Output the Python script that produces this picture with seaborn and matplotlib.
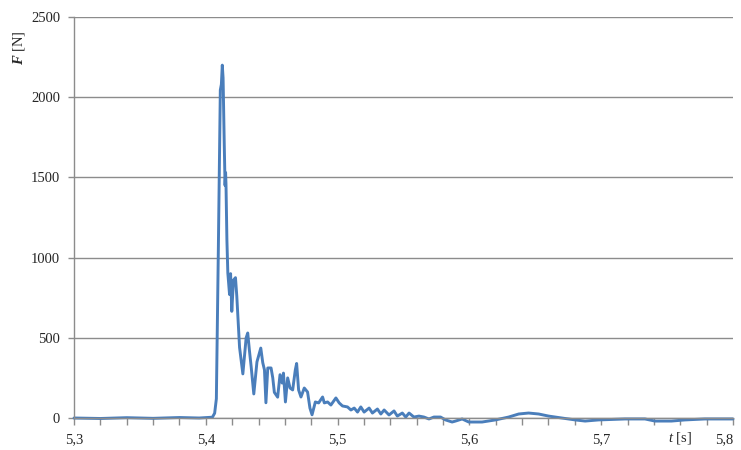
import numpy as np
import pandas as pd
import matplotlib
matplotlib.use("Agg")
import matplotlib.pyplot as plt
import seaborn as sns

sns.set_style("white")
plt.rcParams['font.family'] = ['Liberation Serif', 'DejaVu Serif']
plt.rcParams['mathtext.fontset'] = 'custom'
plt.rcParams['mathtext.rm'] = 'Liberation Serif'
plt.rcParams['mathtext.it'] = 'Liberation Serif:italic'
plt.rcParams['mathtext.bfit'] = 'Liberation Serif:bold:italic'

# force signal
t_s = [5.300, 5.320, 5.340, 5.360, 5.380, 5.395, 5.4050, 5.4067, 5.4080, 5.4095,
       5.4110, 5.4118, 5.4125, 5.4131, 5.4140, 5.4146, 5.4150, 5.4153, 5.4160, 5.4167,
       5.4180, 5.4188, 5.4197, 5.4210, 5.4225, 5.4235, 5.4256, 5.4281, 5.4306, 5.4318,
       5.4331, 5.4344, 5.4364, 5.4388, 5.4417, 5.4432, 5.4445, 5.4456, 5.4470, 5.4495,
       5.4508, 5.4520, 5.4545, 5.4563, 5.4579, 5.4589, 5.4604, 5.4621, 5.4639, 5.4659,
       5.4679, 5.4689, 5.4704, 5.4722, 5.4747, 5.4772, 5.4790, 5.4806, 5.4831, 5.4856,
       5.4886, 5.4899, 5.4924, 5.4949, 5.4987, 5.5012, 5.5037, 5.5075, 5.5101, 5.5126,
       5.5151, 5.5176, 5.5201, 5.5239, 5.5264, 5.5302, 5.5328, 5.5353, 5.5390, 5.5428,
       5.5453, 5.5491, 5.5517, 5.5542, 5.5579, 5.5617, 5.5655, 5.5693, 5.5731, 5.5781,
       5.5819, 5.5869, 5.5895, 5.5945, 5.5995, 5.6096, 5.6197, 5.6298, 5.6374, 5.6449,
       5.6525, 5.6601, 5.6701, 5.6803, 5.6878, 5.6979, 5.7181, 5.7332, 5.7408, 5.7533,
       5.7635, 5.7786, 5.8000]
F_N = [0, -3, 2, -2, 3, 0, 5, 30, 120, 1050,
       2045, 2080, 2200, 2120, 1700, 1450, 1530, 1460, 1110, 904,
       770, 900, 665, 860, 875, 760, 440, 275, 500, 530,
       420, 320, 150, 350, 436, 345, 300, 95, 312, 312,
       250, 160, 130, 270, 218, 280, 100, 250, 187, 175,
       300, 340, 175, 131, 187, 162, 62, 20, 100, 94,
       131, 94, 100, 81, 125, 94, 75, 69, 50, 62,
       37, 69, 37, 62, 31, 56, 25, 50, 19, 44,
       12, 31, 6, 31, 6, 12, 6, -6, 6, 6,
       -12, -25, -19, -6, -25, -25, -12, 6, 25, 31,
       25, 12, 0, -12, -19, -12, -6, -6, -19, -19,
       -12, -6, -6]

x_ticks = [5.3, 5.4, 5.5, 5.6, 5.7, 5.8]
x_labels = ["5,3", "5,4", "5,5", "5,6", "5,7", "5,8"]
y_ticks = [0, 500, 1000, 1500, 2000, 2500]

df = pd.DataFrame({"t": t_s, "F": F_N})

fig = plt.figure(figsize=(7.41, 4.5), dpi=100)
ax = fig.add_axes([0.0999, 0.0711, 0.8893, 0.8911])

sns.lineplot(data=df, x="t", y="F", ax=ax, color="#4A7EBB", linewidth=2.1)
for l in ax.lines:
    l.set_clip_on(False)

ax.set_xlim(5.3, 5.8)
ax.set_ylim(0, 2500)
ax.set_xticks(x_ticks)
ax.set_xticklabels(x_labels)
ax.set_xticks(np.arange(5.3, 5.8001, 0.02), minor=True)
ax.set_yticks(y_ticks)
ax.set_yticklabels([str(v) for v in y_ticks])
ax.get_xticklabels()[-1].set_ha("right")

ax.yaxis.grid(True, color="#8c8c8c", linewidth=1)
ax.set_axisbelow(True)
for side in ["top", "right"]:
    ax.spines[side].set_visible(False)
for side in ["left", "bottom"]:
    ax.spines[side].set_color("#8c8c8c")
    ax.spines[side].set_linewidth(1)

ax.tick_params(axis="x", which="both", direction="out", length=5, width=1,
               color="#8c8c8c", bottom=True, labelsize=10.5, pad=6)
ax.tick_params(axis="y", direction="out", length=4, width=1,
               color="#8c8c8c", left=True, labelsize=10.5, pad=6)

ax.set_ylabel(r"$\mathbfit{F}$ [N]", fontsize=10.5, rotation=90)
ax.yaxis.set_label_coords(-0.083, 0.923)
ax.yaxis.label.set_va("center")
ax.set_xlabel(r"$\mathit{t}$ [s]", fontsize=10.5)
ax.xaxis.set_label_coords(0.92, -0.05)
ax.xaxis.label.set_va("center")

fig.savefig("out.png", dpi=100)
